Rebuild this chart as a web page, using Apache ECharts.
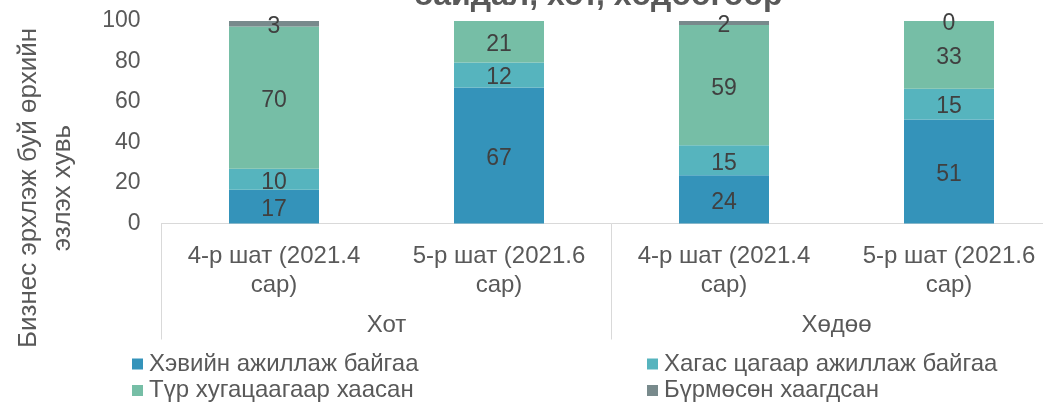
<!DOCTYPE html>
<html>
<head>
<meta charset="utf-8">
<script src="https://cdn.jsdelivr.net/npm/echarts@6/dist/echarts.min.js"></script>
<style>
  html, body { margin: 0; padding: 0; background: #fff; overflow: hidden; }
</style>
</head>
<body>
<!-- зураг баруун талдаа тайрагдсан тул div-ийг арай өргөн болгов -->
<div id="main" style="width: 1062px; height: 402px"></div>
<script>
// ангилал
var categories = [
  "4-р шат (2021.4\nсар)",
  "5-р шат (2021.6\nсар)",
  "4-р шат (2021.4\nсар)",
  "5-р шат (2021.6\nсар)",
];
var groups = ["Хот", "Хөдөө"];

// утгууд (хувь)
var normalWork = [16.7, 67.1, 23.8, 51.4];
var partTime = [10.3, 12.4, 14.8, 15.2];
var tempClosed = [70.3, 20.5, 59.4, 33.4];
var permClosed = [2.7, null, 2.0, 0];

var seriesNames = [
  "Хэвийн ажиллаж байгаа",
  "Хагас цагаар ажиллаж байгаа",
  "Түр хугацаагаар хаасан",
  "Бүрмөсөн хаагдсан",
];
var colors = ["#3493ba", "#56b4be", "#76bea6", "#788a8c"];
var yTicks = [0, 20, 40, 60, 80, 100];

var font = "Liberation Sans, Arial, sans-serif";
var textColor = "#595959";

var chart = echarts.init(document.getElementById("main"));

function makeSeries(name, data, color) {
  return {
    name: name,
    type: "bar",
    stack: "total",
    barWidth: 90,
    data: data,
    itemStyle: { color: color },
    label: {
      show: true,
      position: "inside",
      offset: [0, 3],
      color: "#404040",
      fontSize: 23,
      fontFamily: font,
      formatter: function (p) {
        if (p.value == null) return "";
        return Math.round(p.value);
      },
    },
  };
}

function makeLegend(name, left, top) {
  return {
    left: left,
    top: top,
    padding: 0,
    itemWidth: 11,
    itemHeight: 11,
    itemGap: 0,
    icon: "rect",
    data: [name],
    textStyle: {
      fontSize: 24,
      lineHeight: 24,
      color: textColor,
      fontFamily: font,
      padding: [0, 0, 0, 1],
    },
  };
}

var option = {
  animation: false,
  color: colors,
  grid: { left: 161.5, right: 0.5, top: 21, bottom: 178.5 },
  legend: [
    makeLegend(seriesNames[0], 132, 352),
    makeLegend(seriesNames[2], 132, 378.5),
    makeLegend(seriesNames[1], 647, 352),
    makeLegend(seriesNames[3], 647, 378.5),
  ],
  xAxis: [
    {
      type: "category",
      data: categories,
      axisLine: { lineStyle: { color: "#d9d9d9", width: 1 } },
      axisTick: { show: false },
      axisLabel: {
        interval: 0,
        fontSize: 24,
        lineHeight: 29,
        margin: 18,
        color: textColor,
        fontFamily: font,
      },
    },
    {
      type: "category",
      data: groups,
      position: "bottom",
      axisLine: { show: false },
      axisTick: { show: true, length: 116, lineStyle: { color: "#d9d9d9" } },
      axisLabel: {
        interval: 0,
        fontSize: 24,
        margin: 90,
        color: textColor,
        fontFamily: font,
      },
    },
  ],
  yAxis: {
    type: "value",
    min: yTicks[0],
    max: yTicks[yTicks.length - 1],
    interval: 20,
    axisLine: { show: false },
    axisTick: { show: false },
    splitLine: { show: false },
    axisLabel: {
      fontSize: 23,
      color: textColor,
      fontFamily: font,
      margin: 21,
      padding: [6, 0, 0, 0],
    },
  },
  graphic: [
    {
      type: "text",
      x: 46,
      y: 188,
      rotation: Math.PI / 2,
      style: {
        text: "Бизнес эрхлэж буй өрхийн\nэзлэх хувь",
        fill: textColor,
        font: "26px " + font,
        lineHeight: 34,
        align: "center",
        verticalAlign: "middle",
      },
    },
    {
      type: "text",
      x: 598,
      y: -4,
      style: {
        text: "байдал, хот, хөдөөгөөр",
        fill: textColor,
        font: "bold 32px " + font,
        align: "center",
        verticalAlign: "middle",
      },
    },
  ],
  series: [
    makeSeries(seriesNames[0], normalWork, colors[0]),
    makeSeries(seriesNames[1], partTime, colors[1]),
    makeSeries(seriesNames[2], tempClosed, colors[2]),
    makeSeries(seriesNames[3], permClosed, colors[3]),
  ],
};

chart.setOption(option);
</script>
</body>
</html>
